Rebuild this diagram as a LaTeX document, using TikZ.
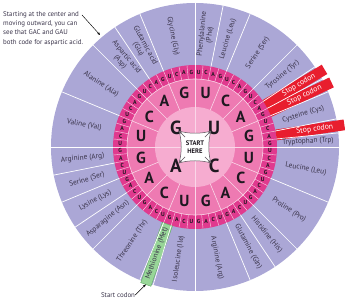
\documentclass[tikz,border=0pt]{standalone}
\usepackage{fontspec}
\setmainfont{PT Sans}
\usetikzlibrary{arrows.meta}
\definecolor{wheelLavender}{RGB}{171, 167, 214}
\definecolor{wheelMagenta}{RGB}{224, 58, 142}
\definecolor{wheelPink}{RGB}{238, 122, 178}
\definecolor{wheelLightPink}{RGB}{246, 172, 208}
\definecolor{wheelLine}{RGB}{250, 215, 232}
\definecolor{stopRed}{RGB}{232, 30, 46}
\definecolor{metGreen}{RGB}{152, 214, 152}
\definecolor{metGreenDark}{RGB}{96, 170, 100}
\definecolor{labelInk}{RGB}{58, 52, 74}
\definecolor{baseInk}{RGB}{30, 24, 32}
\definecolor{boxGray}{RGB}{90, 80, 90}

\begin{document}
\begin{tikzpicture}[
  x=1pt, y=1pt,
  aminoLabel/.style={font=\fontsize{7.4}{7.9}\selectfont, text=labelInk, align=center, inner sep=0pt},
  stopLabel/.style={font=\fontsize{7.8}{8}\selectfont, text=white, inner sep=0pt},
  firstBase/.style={font=\fontsize{19}{19}\selectfont\bfseries, text=baseInk, inner sep=0pt},
  secondBase/.style={font=\fontsize{16}{16}\selectfont\bfseries, text=baseInk, inner sep=0pt},
  thirdBase/.style={font=\fontsize{5.8}{6}\selectfont\bfseries, text=baseInk, inner sep=0pt},
  startText/.style={font=\fontsize{6.6}{7.4}\selectfont\bfseries, text=baseInk, align=center, inner sep=0pt},
  note/.style={font=\fontsize{6.9}{9.4}\selectfont, text=labelInk, align=left, inner sep=0pt},
  divider/.style={white, line width=0.7pt},
  ringLine/.style={wheelLine, line width=0.4pt},
  pointer/.style={-{Stealth[length=3pt,width=2.4pt]}, line width=0.45pt, black},
  cornerArrow/.style={-{Stealth[length=2.4pt,width=2.4pt]}, line width=0.5pt, boxGray}
]
  \useasboundingbox (0,0) rectangle (345,300);

  \begin{scope}[shift={(195,153)}]
    % rings, outside in
    \fill[wheelLavender] (0,0) circle (144);
    \fill[wheelMagenta] (0,0) circle (82);
    \fill[wheelPink] (0,0) circle (68);
    \fill[wheelLightPink] (0,0) circle (40);

    % stop and start strips
    \foreach \a in {30.9375,25.3125,8.4375}
      \fill[stopRed, rotate=\a] (82,-5.4) rectangle (151,5.4);
    \filldraw[fill=metGreen, draw=metGreenDark, line width=0.4pt, rotate=-109.6875] (82,-5.4) rectangle (146,5.4);

    % borders between amino acids
    \foreach \k in {0,2,4,8,10,11,12,14,15,16,20,24,26,28,32,35,36,40,42,44,46,48,52,56,58,60}
      \draw[divider] ({90-5.625*\k}:82) -- ({90-5.625*\k}:144);
    \foreach \k in {0,...,63}
      \draw[ringLine] ({90-5.625*\k}:68) -- ({90-5.625*\k}:82);
    \foreach \k in {0,...,15}
      \draw[ringLine, line width=0.6pt] ({90-22.5*\k}:40) -- ({90-22.5*\k}:68);
    \foreach \k in {0,...,3}
      \draw[ringLine, line width=0.6pt] ({90*\k}:0) -- ({90*\k}:40);
    \draw[ringLine, line width=0.6pt] (0,0) circle (68);

    % bases
    \foreach \b [count=\i from 0] in {U,C,A,G}
      \node[firstBase] (first\b) at ({45-90*\i}:27) {\b};
    \foreach \q in {0,...,3}
      \foreach \b [count=\j from 0] in {U,C,A,G}
        \node[secondBase] (second\q\b) at ({90-22.5*(4*\q+\j)-11.25}:55) {\b};
    \foreach \q in {0,...,15}
      \foreach \b [count=\j from 0] in {U,C,A,G}
        \node[thirdBase] (third\q\b) at ({90-5.625*(4*\q+\j+0.5)}:75) {\b};

    % start box
    \filldraw[fill=white, draw=boxGray, line width=0.5pt]
      (-16,16) .. controls (-6,13) and (6,13) .. (16,16)
      .. controls (13,6) and (13,-6) .. (16,-16)
      .. controls (6,-13) and (-6,-13) .. (-16,-16)
      .. controls (-13,-6) and (-13,6) .. (-16,16) -- cycle;
    \foreach \c in {45,135,-135,-45}
      \draw[cornerArrow] (\c:14) -- (\c:22);
    \node[startText] (start) at (0,0) {START\\HERE};

    % amino acids
    \foreach \a/\t [count=\i] in {84.375/{Phenylalanine\\(Phe)}, 73.125/{Leucine (Leu)},
        56.25/{Serine (Ser)}, 39.375/{Tyrosine (Tyr)}, 16.875/{Cysteine (Cys)},
        2.8125/{Tryptophan (Trp)}, -11.25/{Leucine (Leu)}, -33.75/{Proline (Pro)},
        -50.625/{Histidine (His)}, -61.875/{Glutamine (Gln)}, -78.75/{Arginine (Arg)}}
      \node[aminoLabel, rotate=\a] (right\i) at (\a:113) {\t};
    \foreach \a/\t [count=\i] in {-98.4375/{Isoleucine (Ile)}, -109.6875/{Methionine (Met)},
        -123.75/{Threonine (Thr)}, -140.625/{Asparagine (Asn)}, -151.875/{Lysine (Lys)},
        -163.125/{Serine (Ser)}, -174.375/{Arginine (Arg)}, 168.75/{Valine (Val)},
        146.25/{Alanine (Ala)}, 129.375/{Aspartic acid\\(Asp)},
        118.125/{Glutamic acid\\(Glu)}, 101.25/{Glycine (Gly)}}
      \node[aminoLabel, rotate=\a+180] (left\i) at (\a:113) {\t};
    \foreach \a [count=\i] in {30.9375,25.3125,8.4375}
      \node[stopLabel, rotate=\a] (stop\i) at (\a:121) {Stop codon};

    \coordinate (metEnd) at (-109.6875:146);
  \end{scope}

  % notes
  \node[note, anchor=north west] (hint) at (3,289) {Starting at the center and\\moving outward, you can\\see that GAC and GAU\\both code for aspartic acid.};
  \coordinate (hintEnd) at (82,285);
  \coordinate (aspTip) at (100,265);
  \draw[pointer] (hintEnd) -- (aspTip);
  \node[note] (startCodon) at (118,5) {Start codon};
  \draw[pointer] (startCodon.east) -- (metEnd);
\end{tikzpicture}
\end{document}
